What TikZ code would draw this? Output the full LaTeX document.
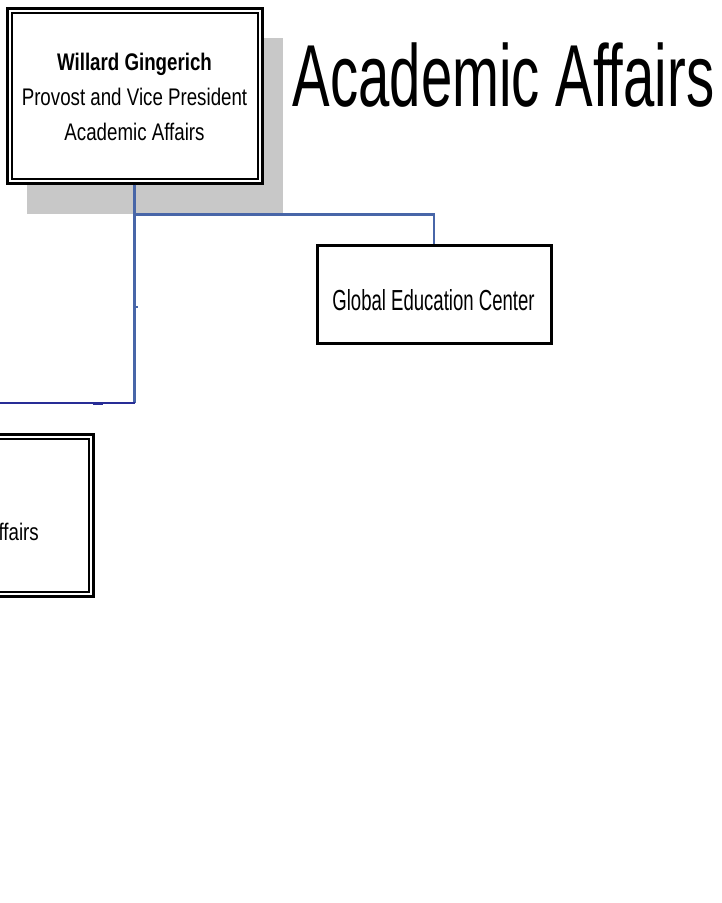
\documentclass[tikz,border=0pt]{standalone}
\usepackage{fontspec}
\setmainfont{Liberation Sans}
\newfontfamily\titlefont[FakeStretch=0.64]{Liberation Sans}
\newfontfamily\boxfont[FakeStretch=0.78]{Liberation Sans}
\definecolor{conn}{RGB}{72,102,168}
\definecolor{conndark}{RGB}{40,45,150}
\definecolor{shadowgray}{RGB}{200,200,200}
\tikzset{
  outerbox/.style={draw=black, line width=3pt, fill=white, inner sep=0pt},
  innerline/.style={draw=black, line width=2pt},
  singlebox/.style={draw=black, line width=3pt, fill=white, inner sep=0pt},
  link/.style={draw=conn, line width=2.4pt},
  linkdark/.style={draw=conndark, line width=2.4pt},
  boxtext/.style={font=\boxfont\fontsize{24}{35}\selectfont, align=center, inner sep=0pt}
}
\begin{document}
\begin{tikzpicture}[x=1pt, y=-1pt]
\clip (0,0) rectangle (722,903);
\fill[white] (0,0) rectangle (722,903);
% shadow
\fill[shadowgray] (27,38) rectangle (283,214);
% top box
\node[outerbox, minimum width=255pt, minimum height=175pt] (provost) at (134.5,95.5) {};
\draw[innerline] ([shift={(6,6)}]provost.north west) rectangle ([shift={(-6,-6)}]provost.south east);
\node[boxtext, anchor=base] (provtxt) at (134.5,140) {\bfseries Willard Gingerich\\Provost and Vice President\\Academic Affairs};
% title
\node[font=\titlefont\fontsize{88}{88}\selectfont, anchor=base, inner sep=0pt] (title) at (503.5,106) {Academic Affairs};
% global box
\node[singlebox, minimum width=234pt, minimum height=98pt] (gec) at (434,294) {};
\node[font=\titlefont\fontsize{29}{29}\selectfont, anchor=base, inner sep=0pt] (gectxt) at (433.5,310) {Global Education Center};
% bottom box (cut off on the left)
\node[outerbox, minimum width=113pt, minimum height=162pt] (lower) at (36.5,515) {};
\draw[innerline] ([shift={(6,6)}]lower.north west) rectangle ([shift={(-6,-6)}]lower.south east);
\node[boxtext, anchor=base east] (lowtxt) at (39,540) {ffairs};
% connectors
\coordinate (lowend) at (0,403);
\draw[link] (provost.south) -- ++(0,30) -| (gec.north);
\draw[link] (provost.south) -- (provost.south |- lowend);
\draw[linkdark] (provost.south |- lowend) -- (lowend);
\draw[link] (134.5,307) -- (138,307);
\draw[conndark, line width=3pt] (93,403) -- (103,403);
\end{tikzpicture}
\end{document}
